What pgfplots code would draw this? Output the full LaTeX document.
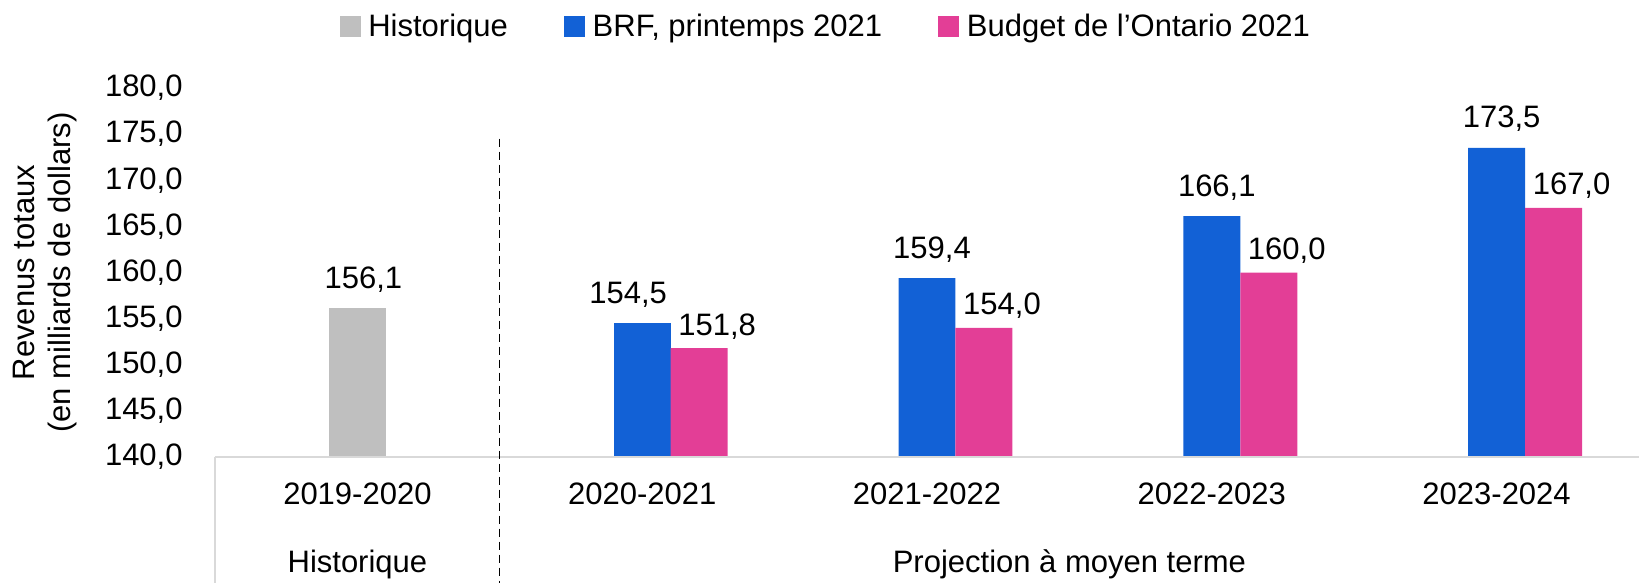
\documentclass[border=0pt]{standalone}
\usepackage{fontspec}
\setmainfont{Liberation Sans}
\usepackage{pgfplots}
\pgfplotsset{compat=1.18}

\definecolor{histgray}{HTML}{BFBFBF}
\definecolor{brfblue}{HTML}{1261D6}
\definecolor{budgetpink}{HTML}{E33E96}
\definecolor{axisgray}{HTML}{D9D9D9}
\newcommand{\chartfont}{\fontsize{15.5}{18}\selectfont}

\begin{document}
\begin{tikzpicture}
\path[use as bounding box] (0,0) rectangle (821pt,291.5pt);
\begin{axis}[
    at={(107.5pt,63pt)}, anchor=south west,
    scale only axis, width=712pt, height=184.5pt,
    xmin=-0.5, xmax=4.5, ymin=140, ymax=180,
    xtick={0,1,2,3,4},
    xticklabels={2019-2020,2020-2021,2021-2022,2022-2023,2023-2024},
    ytick={140,145,150,155,160,165,170,175,180},
    axis line style={draw=none},
    major tick length=0pt,
    clip mode=individual,
    font=\chartfont,
    ticklabel style={font=\chartfont},
    xticklabel style={anchor=base, yshift=-23.5pt},
    yticklabel style={anchor=east, inner sep=0pt, xshift=-16pt},
    /pgf/number format/use comma,
    /pgf/number format/fixed,
    /pgf/number format/fixed zerofill,
    /pgf/number format/precision=1,
    /pgf/number format/assume math mode=true,
    ylabel={Revenus totaux\\(en milliards de dollars)},
    ylabel style={align=center, at={(axis description cs:-0.1194,0.5)}, anchor=center, font=\chartfont},
    every node near coord/.append style={font=\chartfont, anchor=base, inner sep=0pt, text=black},
    legend style={at={(0.4296,1.166)}, anchor=center, draw=none, fill=none,
        legend columns=-1, font=\chartfont,
        /tikz/every even column/.append style={column sep=26pt},
        /tikz/every odd column/.append style={column sep=2pt}},
    legend image code/.code={\fill[#1] (0pt,-5pt) rectangle (10pt,5pt);},
  ]
  % bars (budget bars sit 0.2 to the right of the BRF bars)
  \addplot[ybar, bar width=0.2, bar shift=0pt, fill=histgray, draw=none,
      nodes near coords, every node near coord/.append style={xshift=3pt, yshift=10pt},
      forget plot] coordinates {(0,156.1)};
  \addplot[ybar, bar width=0.2, bar shift=0pt, fill=brfblue, draw=none,
      nodes near coords, every node near coord/.append style={xshift=-7pt, yshift=10pt},
      forget plot] coordinates {(1,154.5)};
  \addplot[ybar, bar width=0.2, bar shift=0pt, fill=brfblue, draw=none,
      nodes near coords, every node near coord/.append style={xshift=2.5pt, yshift=10pt},
      forget plot] coordinates {(2,159.4) (3,166.1) (4,173.5)};
  \addplot[ybar, bar width=0.2, bar shift=0pt, fill=budgetpink, draw=none,
      nodes near coords, every node near coord/.append style={xshift=9pt, yshift=6.5pt},
      forget plot] coordinates {(1.2,151.8) (2.2,154.0) (3.2,160.0) (4.2,167.0)};

  % legend
  \addlegendimage{histgray}
  \addlegendentry{Historique}
  \addlegendimage{brfblue}
  \addlegendentry{BRF, printemps 2021}
  \addlegendimage{budgetpink}
  \addlegendentry{Budget de l’Ontario 2021}

  % axis line, separators, group labels
  \draw[axisgray, line width=1pt] (axis cs:-0.5,140) -- (axis cs:4.5,140);
  \draw[axisgray, line width=1pt] (axis cs:-0.5,140) -- ++(0pt,-63pt);
  \draw[black, line width=0.6pt, dash pattern=on 4pt off 2.5pt]
      (axis cs:0.5,174.5) -- ([yshift=-63pt]axis cs:0.5,140);
  \node[anchor=base, yshift=-57.5pt, font=\chartfont] at (axis cs:0,140) {Historique};
  \node[anchor=base, yshift=-57.5pt, font=\chartfont] at (axis cs:2.5,140) {Projection à moyen terme};
\end{axis}
\end{tikzpicture}
\end{document}
